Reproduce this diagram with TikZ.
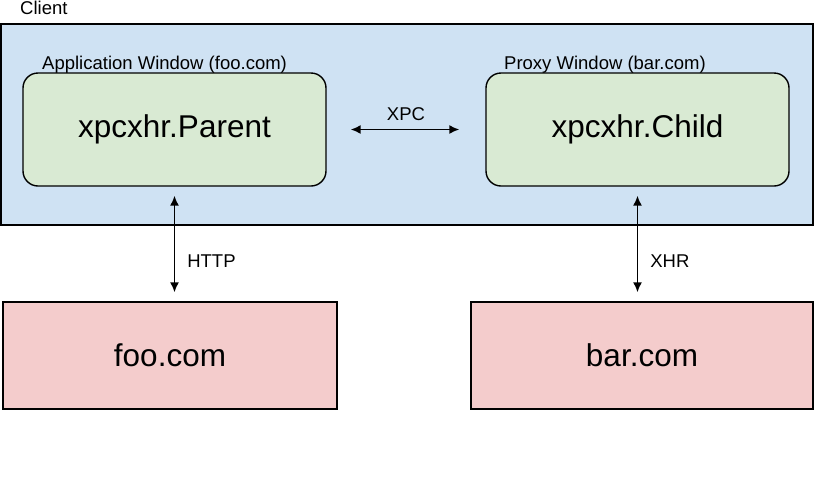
\documentclass[tikz,border=0pt]{standalone}
\usepackage{fontspec}
\setmainfont{Liberation Sans}
\usetikzlibrary{arrows.meta,positioning}

\definecolor{clientblue}{HTML}{CFE2F3}
\definecolor{windowgreen}{HTML}{D9EAD3}
\definecolor{serverpink}{HTML}{F4CCCC}

\begin{document}
\begin{tikzpicture}[x=1pt,y=-1pt,
		box/.style={draw, line width=1.4pt, inner sep=0pt},
		window/.style={box, fill=windowgreen, rounded corners=15pt,
			minimum width=303pt, minimum height=113pt,
			font=\fontsize{31.5}{35}\selectfont},
		server/.style={box, fill=serverpink, minimum height=107pt,
			font=\fontsize{31.5}{35}\selectfont},
		caption/.style={font=\fontsize{18.5}{21}\selectfont, inner sep=0pt},
		link/.style={{Latex[length=10pt,width=9pt]}-{Latex[length=10pt,width=9pt]},
			line width=1.6pt}]
		\useasboundingbox (0,0) rectangle (815,480);
		% client area
		\node[box, fill=clientblue, minimum width=812pt, minimum height=201pt]
			(client) at (407,124.5) {};
		\node[caption, anchor=base west] (clientlbl) at (20,14) {Client};
		% windows
		\node[window] (parent) at (174.5,129.5) {xpcxhr.Parent};
		\node[window] (child)  at (637.5,129.5) {xpcxhr.Child};
		\node[caption, anchor=base west] (applbl) at (42,69.5) {Application Window (foo.com)};
		\node[caption, anchor=base west] (proxylbl) at (504,69.5) {Proxy Window (bar.com)};
		% servers
		\node[server, minimum width=334pt] (foo) at (170,355.5) {foo.com};
		\node[server, minimum width=342pt] (bar) at (642,355.5) {bar.com};
		% connectors
		\draw[link, shorten <=24pt, shorten >=26pt] (parent) -- node[caption, above=8pt] (xpclbl) {XPC} (child);
		\draw[link, shorten <=9pt, shorten >=9pt] (parent.south) -- node[caption, pos=0.65, right=12pt] (httplbl) {HTTP} (parent.south |- foo.north);
		\draw[link, shorten <=9pt, shorten >=9pt] (child.south) -- node[caption, pos=0.65, right=12pt] (xhrlbl) {XHR} (child.south |- bar.north);
\end{tikzpicture}
\end{document}
